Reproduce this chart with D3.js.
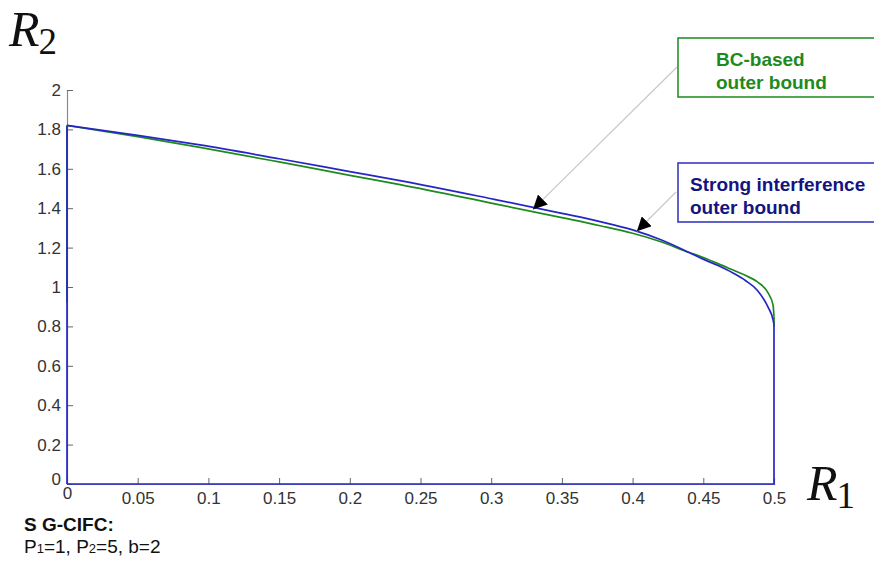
<!DOCTYPE html>
<html><head><meta charset="utf-8">
<script src="https://cdn.jsdelivr.net/npm/d3@7"></script>
<style>body{margin:0;background:#fff}svg{display:block}</style>
</head><body>
<svg id="c" width="874" height="566"></svg>
<script>
// Strong interference outer bound (blue) - boundary curve
const blueX = [0, 0.05, 0.094, 0.15, 0.2, 0.2355, 0.3, 0.35, 0.377, 0.4, 0.42, 0.44, 0.4477, 0.46, 0.471, 0.48, 0.488, 0.4958, 0.4993, 0.5];
const blueY = [1.82, 1.77, 1.721, 1.651, 1.586, 1.54, 1.448, 1.374, 1.332, 1.29, 1.24, 1.175, 1.148, 1.11, 1.071, 1.032, 0.985, 0.898, 0.835, 0.81];
// BC-based outer bound (green) - boundary curve
const greenX = [0, 0.05, 0.094, 0.15, 0.2, 0.2355, 0.3, 0.35, 0.377, 0.4, 0.42, 0.44, 0.4477, 0.46, 0.471, 0.48, 0.488, 0.4958, 0.4993, 0.5];
const greenY = [1.82, 1.763, 1.709, 1.635, 1.567, 1.52, 1.426, 1.352, 1.311, 1.273, 1.23, 1.175, 1.156, 1.12, 1.086, 1.058, 1.027, 0.97, 0.909, 0.85];
// vertical end segments
const greenLeftBottom = 0.92, greenRightBottom = 0.80;
const xTicks = [0, 0.05, 0.1, 0.15, 0.2, 0.25, 0.3, 0.35, 0.4, 0.45, 0.5];
const yTicks = [0, 0.2, 0.4, 0.6, 0.8, 1, 1.2, 1.4, 1.6, 1.8, 2];
const legendGreen = ["BC-based", "outer bound"];
const legendBlue = ["Strong interference", "outer bound"];

const svg = d3.select("#c");
const x = d3.scaleLinear().domain([0, 0.5]).range([67, 774]);
const y = d3.scaleLinear().domain([0, 2]).range([484, 90]);
const font = "'Liberation Sans', Arial, sans-serif";
const serif = "'Liberation Serif', 'DejaVu Serif', serif";

// axes (MATLAB style, ticks inward)
const xAxis = d3.axisBottom(x).tickValues(xTicks).tickSize(-6).tickPadding(13).tickFormat(d3.format("~g"));
const gx = svg.append("g").attr("transform", `translate(0,${y(0)})`).call(xAxis);
const yAxis = d3.axisLeft(y).tickValues(yTicks).tickSize(-6).tickPadding(10).tickFormat(d3.format("~g"));
const gy = svg.append("g").attr("transform", `translate(${x(0)},0)`).call(yAxis);
[gx, gy].forEach(g => {
  g.select(".domain").attr("stroke", "#8a8a8a").attr("stroke-width", 1.2);
  g.selectAll(".tick line").attr("stroke", "#666");
  g.selectAll(".tick text").attr("font-family", font).attr("font-size", 17).attr("fill", "#333");
});
gx.selectAll(".tick text").attr("dy", "0.4em");
gy.selectAll(".tick text").attr("dx", "4");
gx.selectAll(".tick").filter(d => d === 0).select("text").attr("dy", "0.1em");
gy.selectAll(".tick").filter(d => d === 0).select("text").attr("dy", "0em");

const straight = d3.line().x(d => x(d[0])).y(d => y(d[1]));
const smooth = d3.line().x(d => x(d[0])).y(d => y(d[1])).curve(d3.curveMonotoneX);
function series(xs, ys, color, leftBottom, rightBottom, closeBase) {
  const pts = xs.map((v, i) => [v, ys[i]]);
  const g = svg.append("g").attr("fill", "none").attr("stroke", color).attr("stroke-width", 1.7);
  g.append("path").attr("d", smooth(pts));
  g.append("path").attr("d", straight([[0, leftBottom], pts[0]]));
  const last = pts[pts.length - 1];
  const tail = [last, [last[0], rightBottom]];
  if (closeBase) tail.push([0, 0]);
  g.append("path").attr("d", straight(tail));
}
series(greenX, greenY, "#1e8a1e", greenLeftBottom, greenRightBottom, false);
series(blueX, blueY, "#2626c6", 0, 0, true);

// axis labels
const r2 = svg.append("text").attr("x", 9).attr("y", 46).attr("font-family", serif)
  .attr("font-size", 50).attr("fill", "#111");
r2.append("tspan").attr("font-style", "italic").text("R");
r2.append("tspan").attr("font-size", 37).attr("dy", 8).attr("dx", -1).text("2");
const r1 = svg.append("text").attr("x", 807).attr("y", 500).attr("font-family", serif)
  .attr("font-size", 50).attr("fill", "#111");
r1.append("tspan").attr("font-style", "italic").text("R");
r1.append("tspan").attr("font-size", 37).attr("dy", 8).attr("dx", -1).text("1");

// annotation arrows
svg.append("defs").append("marker").attr("id", "ah").attr("viewBox", "0 0 10 10")
  .attr("refX", 10).attr("refY", 5).attr("markerWidth", 14).attr("markerHeight", 14)
  .attr("markerUnits", "userSpaceOnUse").attr("orient", "auto")
  .append("path").attr("d", "M0,0 L10,5 L0,10 z").attr("fill", "#000");
function arrow(x1, y1, x2, y2) {
  svg.append("line").attr("x1", x1).attr("y1", y1).attr("x2", x2).attr("y2", y2)
    .attr("stroke", "#c8c8c8").attr("stroke-width", 1.2).attr("marker-end", "url(#ah)");
}
arrow(677, 67, x(0.3295), y(1.394));
arrow(676, 192, x(0.403), y(1.283));

// legend boxes
function box(bx, by, w, h, color, textColor, lines, tx, ty) {
  svg.append("rect").attr("x", bx).attr("y", by).attr("width", w).attr("height", h)
    .attr("fill", "#fff").attr("stroke", color).attr("stroke-width", 1.6);
  lines.forEach((t, i) => svg.append("text").attr("x", tx).attr("y", ty + i * 23)
    .attr("font-family", font).attr("font-weight", "bold").attr("font-size", 19)
    .attr("fill", textColor).text(t));
}
box(678, 38, 210, 59, "#2a922a", "#1e8a1e", legendGreen, 716, 66);
box(678, 163, 210, 59, "#3a3ac0", "#141480", legendBlue, 690, 191);

// caption
svg.append("text").attr("x", 24).attr("y", 531).attr("font-family", font).attr("font-weight", "bold")
  .attr("font-size", 19).attr("fill", "#111").text("S G-CIFC:");
const cap = svg.append("text").attr("x", 24).attr("y", 553).attr("font-family", font)
  .attr("font-size", 19).attr("fill", "#111");
[["P", 0], ["1", 1], ["=1, P", 0], ["2", 1], ["=5, b=2", 0]].forEach(([t, s]) =>
  cap.append("tspan").attr("font-size", s ? 13 : 19).text(t));
</script>
</body></html>
